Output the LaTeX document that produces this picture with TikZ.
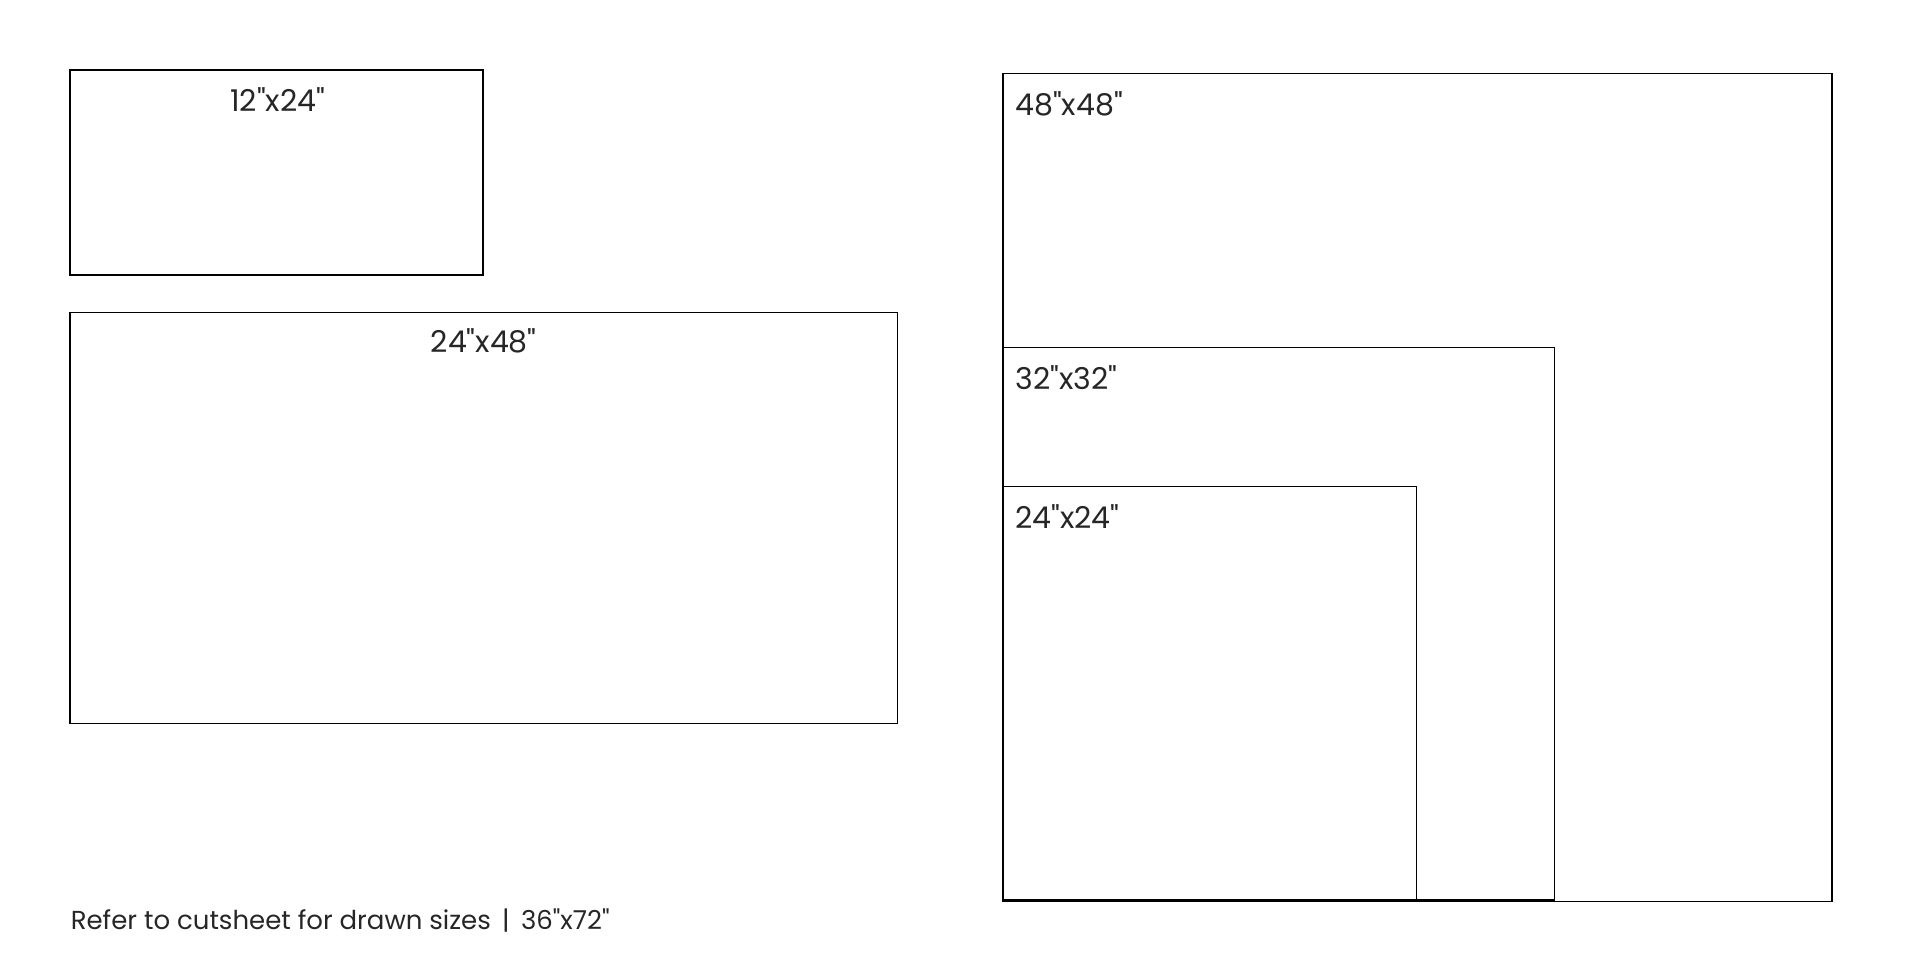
\documentclass[tikz,border=0pt]{standalone}
\usepackage{fontspec}
\setmainfont{Poppins}[Ligatures=TeXOff]
\begin{document}
\begin{tikzpicture}[x=0.5pt,y=-0.5pt,
  panel/.style={draw=black, line width=0.7pt, inner sep=0pt, outer sep=0pt, anchor=north west},
  lbl/.style={inner sep=0pt, text=black!85, font=\fontsize{15}{18}\selectfont},
  foot/.style={inner sep=0pt, text=black!85, font=\fontsize{13}{16}\selectfont}]
\useasboundingbox (0,0) rectangle (1920,960);
% left panels
\node[panel, line width=0.9pt, minimum width=206.6pt, minimum height=102.75pt] (b1224) at (69.8,69.8) {};
\node[panel, minimum width=413.9pt, minimum height=205.75pt] (b2448) at (69.8,312.2) {};
% right nested squares
\node[panel, minimum width=414.45pt, minimum height=414.1pt] (b4848) at (1002.9,73.3) {};
\node[panel, minimum width=275.7pt, minimum height=276.15pt] (b3232) at (1002.9,347.7) {};
\node[panel, minimum width=206.85pt, minimum height=206.9pt] (b2424) at (1002.9,486.7) {};
% labels
\node[lbl, anchor=base] (t1224) at (277.6,111.7) {12"x24"};
\node[lbl, anchor=base] (t2448) at (483.7,352.7) {24"x48"};
\node[lbl, anchor=base west] (t4848) at (1015,115) {48"x48"};
\node[lbl, anchor=base west] (t3232) at (1015,389.3) {32"x32"};
\node[lbl, anchor=base west] (t2424) at (1015,528.3) {24"x24"};
\node[foot, anchor=base west] (note) at (70.4,929.3) {Refer to cutsheet for drawn sizes \,|\, 36"x72"};
\end{tikzpicture}
\end{document}
